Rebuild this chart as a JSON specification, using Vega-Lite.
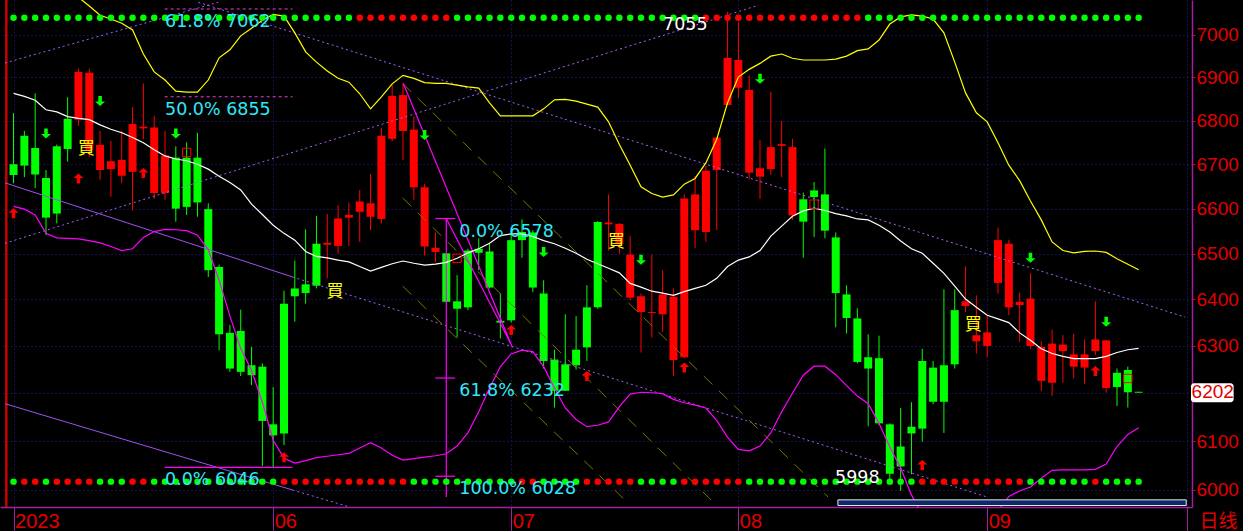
{
"$schema":"https://vega.github.io/schema/vega-lite/v6.json",
"width":1192,"height":507,
"autosize":{"type":"none"},
"padding":{"left":0,"top":0,"right":51,"bottom":24},
"background":"#000000",
"config":{"view":{"stroke":null}},
"datasets":{
"k":[
{"i":0,"o":6700,"h":6817,"l":6657,"c":6676,"u":null,"m":6863,"d":6605,"t":"g","b":"g"},
{"i":1,"o":6765,"h":6776,"l":6671,"c":6697,"u":null,"m":6856,"d":6599,"t":"g","b":"r"},
{"i":2,"o":6737,"h":6863,"l":6646,"c":6677,"u":null,"m":6847,"d":6586,"t":"g","b":"r"},
{"i":3,"o":6669,"h":6687,"l":6541,"c":6580,"u":null,"m":6825,"d":6545,"t":"g","b":"g"},
{"i":4,"o":6741,"h":6745,"l":6567,"c":6589,"u":null,"m":6820,"d":6535,"t":"g","b":"r"},
{"i":5,"o":6804,"h":6854,"l":6706,"c":6735,"u":null,"m":6809,"d":6534,"t":"g","b":"r"},
{"i":6,"o":6802,"h":6921,"l":6788,"c":6913,"u":7090,"m":6805,"d":6533,"t":"g","b":"r"},
{"i":7,"o":6733,"h":6921,"l":6717,"c":6911,"u":7069,"m":6802,"d":6529,"t":"g","b":"r"},
{"i":8,"o":6687,"h":6776,"l":6665,"c":6744,"u":7047,"m":6790,"d":6524,"t":"g","b":"g"},
{"i":9,"o":6689,"h":6753,"l":6627,"c":6707,"u":7038,"m":6780,"d":6516,"t":"g","b":"g"},
{"i":10,"o":6674,"h":6776,"l":6658,"c":6710,"u":7028,"m":6772,"d":6507,"t":"g","b":"g"},
{"i":11,"o":6683,"h":6831,"l":6596,"c":6792,"u":7012,"m":6761,"d":6511,"t":"g","b":"r"},
{"i":12,"o":6782,"h":6886,"l":6757,"c":6786,"u":6955,"m":6749,"d":6536,"t":"g","b":"r"},
{"i":13,"o":6635,"h":6811,"l":6622,"c":6784,"u":6913,"m":6733,"d":6549,"t":"g","b":"g"},
{"i":14,"o":6635,"h":6776,"l":6620,"c":6720,"u":6894,"m":6719,"d":6554,"t":"g","b":"g"},
{"i":15,"o":6715,"h":6741,"l":6571,"c":6600,"u":6868,"m":6712,"d":6553,"t":"g","b":"g"},
{"i":16,"o":6715,"h":6750,"l":6586,"c":6604,"u":6866,"m":6708,"d":6551,"t":"g","b":"g"},
{"i":17,"o":6715,"h":6772,"l":6582,"c":6614,"u":6866,"m":6700,"d":6541,"t":"g","b":"g"},
{"i":18,"o":6599,"h":6612,"l":6449,"c":6464,"u":6894,"m":6689,"d":6509,"t":"g","b":"g"},
{"i":19,"o":6471,"h":6476,"l":6291,"c":6325,"u":6946,"m":6673,"d":6442,"t":"g","b":"g"},
{"i":20,"o":6328,"h":6345,"l":6245,"c":6252,"u":6965,"m":6659,"d":6364,"t":"g","b":"g"},
{"i":21,"o":6332,"h":6378,"l":6236,"c":6245,"u":6998,"m":6642,"d":6295,"t":"g","b":"g"},
{"i":22,"o":6259,"h":6298,"l":6217,"c":6238,"u":7016,"m":6610,"d":6248,"t":"g","b":"g"},
{"i":23,"o":6256,"h":6263,"l":6049,"c":6142,"u":7035,"m":6587,"d":6181,"t":"g","b":"g"},
{"i":24,"o":6135,"h":6213,"l":6046,"c":6112,"u":7049,"m":6563,"d":6102,"t":"g","b":"g"},
{"i":25,"o":6391,"h":6419,"l":6092,"c":6116,"u":7045,"m":6545,"d":6065,"t":"g","b":"r"},
{"i":26,"o":6424,"h":6485,"l":6352,"c":6407,"u":7005,"m":6530,"d":6055,"t":"g","b":"r"},
{"i":27,"o":6433,"h":6554,"l":6391,"c":6414,"u":6960,"m":6505,"d":6060,"t":"g","b":"r"},
{"i":28,"o":6522,"h":6584,"l":6424,"c":6430,"u":6936,"m":6494,"d":6066,"t":"g","b":"r"},
{"i":29,"o":6520,"h":6588,"l":6446,"c":6524,"u":6915,"m":6491,"d":6069,"t":"g","b":"r"},
{"i":30,"o":6517,"h":6608,"l":6500,"c":6578,"u":6898,"m":6486,"d":6072,"t":"g","b":"r"},
{"i":31,"o":6580,"h":6614,"l":6517,"c":6586,"u":6889,"m":6482,"d":6075,"t":"g","b":"r"},
{"i":32,"o":6593,"h":6642,"l":6526,"c":6616,"u":6862,"m":6472,"d":6086,"t":"r","b":"r"},
{"i":33,"o":6582,"h":6678,"l":6552,"c":6612,"u":6827,"m":6462,"d":6097,"t":"r","b":"r"},
{"i":34,"o":6577,"h":6783,"l":6567,"c":6765,"u":6855,"m":6470,"d":6086,"t":"r","b":"r"},
{"i":35,"o":6758,"h":6882,"l":6752,"c":6857,"u":6885,"m":6478,"d":6071,"t":"r","b":"r"},
{"i":36,"o":6776,"h":6886,"l":6710,"c":6859,"u":6905,"m":6484,"d":6061,"t":"r","b":"r"},
{"i":37,"o":6648,"h":6809,"l":6620,"c":6779,"u":6898,"m":6479,"d":6064,"t":"r","b":"g"},
{"i":38,"o":6516,"h":6656,"l":6496,"c":6648,"u":6888,"m":6475,"d":6067,"t":"r","b":"g"},
{"i":39,"o":6504,"h":6547,"l":6482,"c":6513,"u":6886,"m":6477,"d":6070,"t":"r","b":"g"},
{"i":40,"o":6501,"h":6501,"l":6393,"c":6395,"u":6886,"m":6481,"d":6074,"t":"r","b":"g"},
{"i":41,"o":6396,"h":6453,"l":6318,"c":6380,"u":6882,"m":6490,"d":6090,"t":"g","b":"g"},
{"i":42,"o":6507,"h":6511,"l":6377,"c":6383,"u":6878,"m":6502,"d":6117,"t":"g","b":"g"},
{"i":43,"o":6511,"h":6534,"l":6464,"c":6502,"u":6875,"m":6511,"d":6161,"t":"g","b":"g"},
{"i":44,"o":6505,"h":6524,"l":6424,"c":6426,"u":6841,"m":6523,"d":6211,"t":"g","b":"g"},
{"i":45,"o":6354,"h":6413,"l":6316,"c":6350,"u":6811,"m":6540,"d":6256,"t":"g","b":"g"},
{"i":46,"o":6530,"h":6551,"l":6350,"c":6355,"u":6811,"m":6544,"d":6283,"t":"g","b":"g"},
{"i":47,"o":6548,"h":6576,"l":6491,"c":6530,"u":6811,"m":6544,"d":6291,"t":"g","b":"r"},
{"i":48,"o":6547,"h":6552,"l":6416,"c":6426,"u":6811,"m":6538,"d":6288,"t":"g","b":"r"},
{"i":49,"o":6413,"h":6442,"l":6252,"c":6268,"u":6827,"m":6529,"d":6256,"t":"g","b":"g"},
{"i":50,"o":6271,"h":6292,"l":6170,"c":6205,"u":6848,"m":6522,"d":6211,"t":"g","b":"g"},
{"i":51,"o":6261,"h":6368,"l":6205,"c":6205,"u":6849,"m":6512,"d":6169,"t":"g","b":"g"},
{"i":52,"o":6292,"h":6364,"l":6250,"c":6259,"u":6845,"m":6501,"d":6145,"t":"g","b":"g"},
{"i":53,"o":6383,"h":6431,"l":6268,"c":6297,"u":6838,"m":6488,"d":6130,"t":"g","b":"r"},
{"i":54,"o":6570,"h":6572,"l":6380,"c":6383,"u":6831,"m":6478,"d":6133,"t":"g","b":"r"},
{"i":55,"o":6565,"h":6632,"l":6507,"c":6569,"u":6797,"m":6468,"d":6140,"t":"g","b":"r"},
{"i":56,"o":6521,"h":6568,"l":6500,"c":6566,"u":6745,"m":6458,"d":6172,"t":"g","b":"r"},
{"i":57,"o":6404,"h":6539,"l":6398,"c":6498,"u":6698,"m":6435,"d":6198,"t":"g","b":"r"},
{"i":58,"o":6373,"h":6413,"l":6286,"c":6407,"u":6649,"m":6427,"d":6202,"t":"g","b":"g"},
{"i":59,"o":6371,"h":6498,"l":6318,"c":6373,"u":6634,"m":6418,"d":6201,"t":"g","b":"g"},
{"i":60,"o":6368,"h":6464,"l":6330,"c":6411,"u":6626,"m":6414,"d":6199,"t":"g","b":"g"},
{"i":61,"o":6270,"h":6424,"l":6236,"c":6406,"u":6631,"m":6409,"d":6187,"t":"g","b":"g"},
{"i":62,"o":6276,"h":6632,"l":6274,"c":6623,"u":6655,"m":6417,"d":6180,"t":"g","b":"r"},
{"i":63,"o":6552,"h":6674,"l":6513,"c":6632,"u":6668,"m":6424,"d":6175,"t":"g","b":"r"},
{"i":64,"o":6548,"h":6696,"l":6526,"c":6685,"u":6703,"m":6431,"d":6169,"t":"r","b":"r"},
{"i":65,"o":6687,"h":6761,"l":6552,"c":6761,"u":6757,"m":6446,"d":6143,"t":"r","b":"r"},
{"i":66,"o":6836,"h":7055,"l":6836,"c":6946,"u":6841,"m":6472,"d":6108,"t":"r","b":"r"},
{"i":67,"o":6876,"h":7030,"l":6852,"c":6941,"u":6901,"m":6486,"d":6083,"t":"r","b":"r"},
{"i":68,"o":6681,"h":6905,"l":6666,"c":6871,"u":6919,"m":6493,"d":6080,"t":"r","b":"g"},
{"i":69,"o":6672,"h":6755,"l":6622,"c":6691,"u":6933,"m":6507,"d":6090,"t":"r","b":"g"},
{"i":70,"o":6689,"h":6867,"l":6676,"c":6739,"u":6950,"m":6539,"d":6117,"t":"r","b":"g"},
{"i":71,"o":6742,"h":6799,"l":6671,"c":6746,"u":6955,"m":6561,"d":6161,"t":"r","b":"g"},
{"i":72,"o":6585,"h":6758,"l":6575,"c":6739,"u":6945,"m":6583,"d":6200,"t":"r","b":"g"},
{"i":73,"o":6621,"h":6636,"l":6491,"c":6571,"u":6941,"m":6595,"d":6238,"t":"r","b":"g"},
{"i":74,"o":6641,"h":6660,"l":6537,"c":6626,"u":6941,"m":6601,"d":6257,"t":"r","b":"g"},
{"i":75,"o":6632,"h":6736,"l":6534,"c":6551,"u":6941,"m":6596,"d":6257,"t":"r","b":"g"},
{"i":76,"o":6536,"h":6547,"l":6340,"c":6414,"u":6943,"m":6589,"d":6239,"t":"r","b":"g"},
{"i":77,"o":6411,"h":6431,"l":6327,"c":6360,"u":6950,"m":6584,"d":6216,"t":"r","b":"g"},
{"i":78,"o":6359,"h":6381,"l":6263,"c":6266,"u":6963,"m":6577,"d":6194,"t":"r","b":"g"},
{"i":79,"o":6276,"h":6325,"l":6131,"c":6252,"u":6967,"m":6575,"d":6178,"t":"g","b":"g"},
{"i":80,"o":6274,"h":6322,"l":6133,"c":6137,"u":6988,"m":6563,"d":6137,"t":"g","b":"g"},
{"i":81,"o":6135,"h":6137,"l":6014,"c":6033,"u":7026,"m":6548,"d":6088,"t":"g","b":"g"},
{"i":82,"o":6089,"h":6169,"l":5998,"c":6048,"u":7043,"m":6528,"d":6045,"t":"g","b":"g"},
{"i":83,"o":6130,"h":6181,"l":6032,"c":6116,"u":7048,"m":6511,"d":5990,"t":"g","b":"g"},
{"i":84,"o":6268,"h":6294,"l":6099,"c":6126,"u":7045,"m":6501,"d":5950,"t":"g","b":"r"},
{"i":85,"o":6254,"h":6268,"l":6177,"c":6182,"u":7038,"m":6479,"d":5935,"t":"g","b":"r"},
{"i":86,"o":6259,"h":6422,"l":6117,"c":6182,"u":7005,"m":6457,"d":5925,"t":"g","b":"r"},
{"i":87,"o":6377,"h":6422,"l":6252,"c":6261,"u":6936,"m":6429,"d":5920,"t":"g","b":"r"},
{"i":88,"o":6386,"h":6472,"l":6373,"c":6396,"u":6864,"m":6401,"d":5920,"t":"g","b":"r"},
{"i":89,"o":6310,"h":6409,"l":6284,"c":6323,"u":6818,"m":6383,"d":5928,"t":"g","b":"r"},
{"i":90,"o":6300,"h":6364,"l":6276,"c":6329,"u":6797,"m":6366,"d":5940,"t":"g","b":"r"},
{"i":91,"o":6436,"h":6558,"l":6413,"c":6530,"u":6749,"m":6358,"d":5958,"t":"g","b":"r"},
{"i":92,"o":6383,"h":6531,"l":6366,"c":6522,"u":6698,"m":6350,"d":5987,"t":"g","b":"r"},
{"i":93,"o":6388,"h":6415,"l":6309,"c":6395,"u":6663,"m":6328,"d":5998,"t":"g","b":"r"},
{"i":94,"o":6300,"h":6457,"l":6294,"c":6402,"u":6617,"m":6312,"d":6006,"t":"g","b":"g"},
{"i":95,"o":6226,"h":6310,"l":6205,"c":6298,"u":6575,"m":6294,"d":6024,"t":"g","b":"g"},
{"i":96,"o":6222,"h":6335,"l":6194,"c":6305,"u":6526,"m":6284,"d":6040,"t":"g","b":"g"},
{"i":97,"o":6289,"h":6323,"l":6222,"c":6303,"u":6507,"m":6278,"d":6041,"t":"g","b":"g"},
{"i":98,"o":6256,"h":6326,"l":6231,"c":6282,"u":6502,"m":6273,"d":6041,"t":"g","b":"g"},
{"i":99,"o":6254,"h":6314,"l":6220,"c":6282,"u":6505,"m":6273,"d":6041,"t":"g","b":"g"},
{"i":100,"o":6289,"h":6396,"l":6281,"c":6314,"u":6506,"m":6273,"d":6042,"t":"g","b":"r"},
{"i":101,"o":6211,"h":6312,"l":6201,"c":6312,"u":6503,"m":6278,"d":6053,"t":"g","b":"g"},
{"i":102,"o":6243,"h":6252,"l":6173,"c":6213,"u":6489,"m":6286,"d":6089,"t":"g","b":"g"},
{"i":103,"o":6249,"h":6256,"l":6170,"c":6202,"u":6477,"m":6292,"d":6114,"t":"g","b":"g"},
{"i":104,"o":6203,"h":6203,"l":6201,"c":6201,"u":6465,"m":6295,"d":6128,"t":"g","b":"g"}
],
"t":[
{"g":"vs","id":"a","i":-0.79,"p":6658},{"g":"vs","id":"a","i":25.79,"p":6449},
{"g":"vs","id":"b","i":-0.79,"p":6178},{"g":"vs","id":"b","i":25.79,"p":6000},
{"g":"vd","id":"c","i":25.79,"p":6449},{"g":"vd","id":"c","i":89.96,"p":5986},
{"g":"vd","id":"d","i":25.79,"p":6000},{"g":"vd","id":"d","i":31,"p":5966},
{"g":"vd","id":"e","i":-0.79,"p":6934},{"g":"vd","id":"e","i":18.92,"p":7078},
{"g":"vd","id":"f","i":-0.79,"p":6523},{"g":"vd","id":"f","i":68.87,"p":7071},
{"g":"vd","id":"h","i":17.08,"p":7078},{"g":"vd","id":"h","i":108.3,"p":6362},
{"g":"m","id":"k","i":36.03,"p":6886},{"g":"m","id":"k","i":46.11,"p":6297},
{"g":"m","id":"n","i":40,"p":6578},{"g":"m","id":"n","i":45.96,"p":6305},
{"g":"m","id":"v","i":40,"p":6578},{"g":"m","id":"v","i":40,"p":5986},
{"g":"m","id":"t1","i":38.99,"p":6578},{"g":"m","id":"t1","i":40.82,"p":6578},
{"g":"m","id":"t2","i":38.99,"p":6232},{"g":"m","id":"t2","i":40.82,"p":6232},
{"g":"m","id":"t3","i":38.99,"p":6028},{"g":"m","id":"t3","i":40.82,"p":6028},
{"g":"m","id":"z","i":13.97,"p":6046},{"g":"m","id":"z","i":25.79,"p":6046},
{"g":"md","id":"q","i":13.97,"p":7062},{"g":"md","id":"q","i":25.79,"p":7062},
{"g":"md","id":"r","i":13.97,"p":6855},{"g":"md","id":"r","i":25.79,"p":6855},
{"g":"o","id":"o1","i":35.97,"p":6886},{"g":"o","id":"o1","i":75.29,"p":5986},
{"g":"o","id":"o2","i":35.97,"p":6624},{"g":"o","id":"o2","i":64.47,"p":5980},
{"g":"o","id":"o3","i":35.97,"p":6429},{"g":"o","id":"o3","i":56.5,"p":5980}
],
"arr":[
{"i":0,"p":6590,"d":"up"},{"i":3,"p":6770,"d":"dn"},{"i":6,"p":6668,"d":"up"},{"i":8,"p":6845,"d":"dn"},
{"i":12,"p":6680,"d":"up"},{"i":15,"p":6770,"d":"dn"},{"i":25,"p":6067,"d":"up"},{"i":38,"p":6767,"d":"dn"},
{"i":46,"p":6334,"d":"up"},{"i":49,"p":6504,"d":"dn"},{"i":53,"p":6236,"d":"up"},{"i":58,"p":6487,"d":"dn"},
{"i":62,"p":6254,"d":"up"},{"i":69,"p":6897,"d":"dn"},{"i":84,"p":6051,"d":"up"},{"i":94,"p":6491,"d":"dn"},
{"i":100,"p":6247,"d":"up"},{"i":101,"p":6352,"d":"dn"}
],
"ft":[{"i":14,"p":7062,"s":"61.8% 7062"},{"i":14,"p":6855,"s":"50.0% 6855"},{"i":14,"p":6046,"s":"0.0% 6046"}],
"ft2":[{"i":40,"p":6578,"s":"0.0% 6578"},{"i":40,"p":6232,"s":"61.8% 6232"},{"i":40,"p":6028,"s":"100.0% 6028"}]
},
"encoding":{"x":{"field":"i","type":"quantitative","scale":{"domain":[-0.79,108.47],"nice":false,"zero":false},
"axis":{"values":[0,24,46,67,90,108.47],"labelExpr":"datum.value==0?'2023':datum.value==24?'06':datum.value==46?'07':datum.value==67?'08':datum.value==90?'09':''","labelAlign":"left","labelBaseline":"middle","labelOffset":1,"labelPadding":-10,"labelFont":"Liberation Sans","labelFontSize":20,"labelColor":"#e00000","labelFlush":false,"labelOverlap":false,"labelBound":false,"tickSize":24,"tickColor":"#a020a0","tickWidth":1,"domainColor":"#a020a0","domainWidth":1.5,"grid":true,"gridColor":"#2020a0","gridDash":[1,3],"gridWidth":1,"title":"日线","titleFont":"Noto Sans CJK SC","titleFontSize":19,"titleFontWeight":"normal","titleColor":"#e00000","titleX":1199,"titleY":14,"titleAlign":"left","titleBaseline":"middle","titleAngle":0}}},
"layer":[
{"data":{"values":[{"i":-0.67}]},"mark":{"type":"rule","color":"#c80000","strokeWidth":2.5}},
{"data":{"name":"k"},"transform":[{"calculate":"datum.c>=datum.o?'r':'g'","as":"dir"}],"mark":{"type":"rule","strokeWidth":1},
"encoding":{"y":{"field":"l","type":"quantitative","scale":{"type":"log","domain":[5965.5,7083.5],"nice":false},"title":null,
"axis":{"orient":"right","values":[6000,6100,6200,6300,6400,6500,6600,6700,6800,6900,7000],"format":"d","labelExpr":"datum.value==6200?'':datum.label","labelFont":"Liberation Sans","labelFontSize":19,"labelColor":"#e00000","labelPadding":1,"labelBaseline":"middle","labelFlush":false,"labelOverlap":false,"labelBound":false,"tickSize":3,"tickColor":"#e00000","domainColor":"#a020a0","domainWidth":1.5,"grid":true,"gridColor":"#2020a0","gridDash":[1,3],"gridWidth":1,"title":null}},
"y2":{"field":"h"},"color":{"field":"dir","type":"nominal","scale":{"domain":["g","r"],"range":["#00ff00","#ff0000"]},"legend":null}}},
{"data":{"name":"k"},"transform":[{"calculate":"datum.c>=datum.o?'r':'g'","as":"dir"}],"mark":{"type":"bar","width":8},
"encoding":{"y":{"field":"o","type":"quantitative","scale":{"type":"log","domain":[5965.5,7083.5],"nice":false},"title":null},"y2":{"field":"c"},"color":{"field":"dir","type":"nominal","scale":{"domain":["g","r"],"range":["#00ff00","#ff0000"]},"legend":null}}},
{"data":{"name":"t"},"transform":[{"filter":"datum.g=='vs'"}],"mark":{"type":"line","color":"#a050f0","strokeWidth":1,"clip":true},"encoding":{"y":{"field":"p","type":"quantitative","scale":{"type":"log","domain":[5965.5,7083.5],"nice":false},"title":null},"detail":{"field":"id"}}},
{"data":{"name":"t"},"transform":[{"filter":"datum.g=='vd'"}],"mark":{"type":"line","color":"#a860ff","strokeWidth":1,"strokeDash":[2,3],"clip":true},"encoding":{"y":{"field":"p","type":"quantitative","scale":{"type":"log","domain":[5965.5,7083.5],"nice":false},"title":null},"detail":{"field":"id"}}},
{"data":{"name":"t"},"transform":[{"filter":"datum.g=='o'"}],"mark":{"type":"line","color":"#767600","strokeWidth":1,"strokeDash":[12,9],"clip":true},"encoding":{"y":{"field":"p","type":"quantitative","scale":{"type":"log","domain":[5965.5,7083.5],"nice":false},"title":null},"detail":{"field":"id"}}},
{"data":{"name":"t"},"transform":[{"filter":"datum.g=='m'"}],"mark":{"type":"line","color":"#ff00ff","strokeWidth":1.2,"clip":true},"encoding":{"y":{"field":"p","type":"quantitative","scale":{"type":"log","domain":[5965.5,7083.5],"nice":false},"title":null},"detail":{"field":"id"}}},
{"data":{"name":"t"},"transform":[{"filter":"datum.g=='md'"}],"mark":{"type":"line","color":"#e040e0","strokeWidth":1,"strokeDash":[3,3],"clip":true},"encoding":{"y":{"field":"p","type":"quantitative","scale":{"type":"log","domain":[5965.5,7083.5],"nice":false},"title":null},"detail":{"field":"id"}}},
{"data":{"name":"k"},"mark":{"type":"line","color":"#ffff00","strokeWidth":1.2,"clip":true},"encoding":{"y":{"field":"u","type":"quantitative","scale":{"type":"log","domain":[5965.5,7083.5],"nice":false},"title":null}}},
{"data":{"name":"k"},"mark":{"type":"line","color":"#ffffff","strokeWidth":1.2,"clip":true},"encoding":{"y":{"field":"m","type":"quantitative","scale":{"type":"log","domain":[5965.5,7083.5],"nice":false},"title":null}}},
{"data":{"name":"k"},"mark":{"type":"line","color":"#ff00ff","strokeWidth":1.2,"clip":true},"encoding":{"y":{"field":"d","type":"quantitative","scale":{"type":"log","domain":[5965.5,7083.5],"nice":false},"title":null}}},
{"data":{"name":"k"},"mark":{"type":"circle","size":42,"opacity":1},"encoding":{"y":{"datum":7041,"type":"quantitative","scale":{"type":"log","domain":[5965.5,7083.5],"nice":false},"title":null},"color":{"field":"t","type":"nominal","scale":{"domain":["g","r"],"range":["#00ff00","#ff0000"]},"legend":null}}},
{"data":{"name":"k"},"mark":{"type":"circle","size":42,"opacity":1},"encoding":{"y":{"datum":6017,"type":"quantitative","scale":{"type":"log","domain":[5965.5,7083.5],"nice":false},"title":null},"color":{"field":"b","type":"nominal","scale":{"domain":["g","r"],"range":["#00ff00","#ff0000"]},"legend":null}}},
{"data":{"name":"arr"},"transform":[{"filter":"datum.d=='up'"}],"mark":{"type":"point","shape":"M0,-1L1,-0.1L0.35,-0.1L0.35,1L-0.35,1L-0.35,-0.1L-1,-0.1Z","filled":true,"size":100,"color":"#ff0000","opacity":1},"encoding":{"y":{"field":"p","type":"quantitative","scale":{"type":"log","domain":[5965.5,7083.5],"nice":false},"title":null}}},
{"data":{"name":"arr"},"transform":[{"filter":"datum.d=='dn'"}],"mark":{"type":"point","shape":"M0,1L1,0.1L0.35,0.1L0.35,-1L-0.35,-1L-0.35,0.1L-1,0.1Z","filled":true,"size":100,"color":"#00ff00","opacity":1},"encoding":{"y":{"field":"p","type":"quantitative","scale":{"type":"log","domain":[5965.5,7083.5],"nice":false},"title":null}}},
{"data":{"values":[{"i":7,"p":6735,"s":"買"},{"i":30,"p":6416,"s":"買"},{"i":56,"p":6525,"s":"買"},{"i":89,"p":6344,"s":"買"}]},"mark":{"type":"text","font":"Noto Sans CJK TC","fontSize":17,"color":"#ffff00","dx":-3,"baseline":"middle","align":"center"},"encoding":{"y":{"field":"p","type":"quantitative","scale":{"type":"log","domain":[5965.5,7083.5],"nice":false},"title":null},"text":{"field":"s"}}},
{"data":{"values":[{"i":16,"p":6727},{"i":41,"p":6490},{"i":74,"p":6610},{"i":103,"p":6231}]},"mark":{"type":"point","shape":"square","filled":false,"color":"#ff0000","strokeWidth":1,"size":70,"opacity":1},"encoding":{"y":{"field":"p","type":"quantitative","scale":{"type":"log","domain":[5965.5,7083.5],"nice":false},"title":null}}},
{"data":{"name":"ft"},"mark":{"type":"text","font":"DejaVu Sans","fontSize":17.5,"color":"#30e8f8","align":"left","baseline":"middle","dy":13},"encoding":{"y":{"field":"p","type":"quantitative","scale":{"type":"log","domain":[5965.5,7083.5],"nice":false},"title":null},"text":{"field":"s"}}},
{"data":{"name":"ft2"},"mark":{"type":"text","font":"DejaVu Sans","fontSize":17.5,"color":"#30e8f8","align":"left","baseline":"middle","dx":13,"dy":13},"encoding":{"y":{"field":"p","type":"quantitative","scale":{"type":"log","domain":[5965.5,7083.5],"nice":false},"title":null},"text":{"field":"s"}}},
{"data":{"values":[{"i":66,"p":7055,"s":"7055"}]},"mark":{"type":"text","font":"DejaVu Sans","fontSize":17.5,"color":"#ffffff","align":"right","baseline":"middle","dx":-20,"dy":13},"encoding":{"y":{"field":"p","type":"quantitative","scale":{"type":"log","domain":[5965.5,7083.5],"nice":false},"title":null},"text":{"field":"s"}}},
{"data":{"values":[{"i":82,"p":5998,"s":"5998"}]},"mark":{"type":"text","font":"DejaVu Sans","fontSize":17.5,"color":"#ffffff","align":"right","baseline":"middle","dx":-21,"dy":-13},"encoding":{"y":{"field":"p","type":"quantitative","scale":{"type":"log","domain":[5965.5,7083.5],"nice":false},"title":null},"text":{"field":"s"}}},
{"data":{"values":[{"i":76.2,"i2":108.4,"p":5980,"p2":5968.5}]},"mark":{"type":"rect","color":"#0c2a6a","stroke":"#e8e8e8","strokeWidth":1},"encoding":{"x2":{"field":"i2"},"y":{"field":"p","type":"quantitative","scale":{"type":"log","domain":[5965.5,7083.5],"nice":false},"title":null},"y2":{"field":"p2"}}},
{"data":{"values":[{"i":108.84,"i2":112.78,"p":6221,"p2":6181}]},"mark":{"type":"rect","color":"#ffffff","cornerRadius":3},"encoding":{"x2":{"field":"i2"},"y":{"field":"p","type":"quantitative","scale":{"type":"log","domain":[5965.5,7083.5],"nice":false},"title":null},"y2":{"field":"p2"}}},
{"data":{"values":[{"i":110.85,"p":6202}]},"mark":{"type":"text","font":"Liberation Sans","fontSize":19,"color":"#e00000","align":"center","baseline":"middle"},"encoding":{"y":{"field":"p","type":"quantitative","scale":{"type":"log","domain":[5965.5,7083.5],"nice":false},"title":null},"text":{"field":"p","type":"quantitative","format":"d"}}}
]
}
